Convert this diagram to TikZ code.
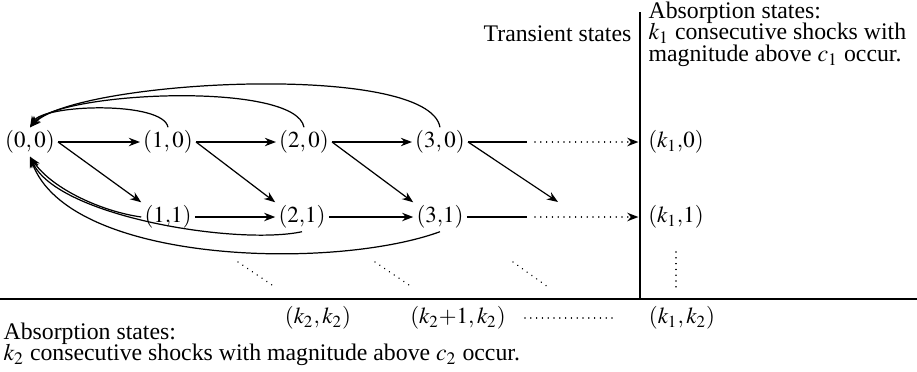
\documentclass[tikz,border=0pt]{standalone}
\usepackage{mathptmx}
\usepackage{fontspec}
\setmainfont{Liberation Serif}
\usetikzlibrary{arrows.meta}

\begin{document}
\begin{tikzpicture}[
  x=0.45pt, y=0.45pt, line width=0.55pt,
  >={Stealth[length=5pt,width=3.8pt]},
  state/.style={inner sep=1.2pt,font=\fontsize{10.3}{9}\selectfont},
  txt/.style={inner sep=0pt,align=left,font=\fontsize{10.7}{9.8}\selectfont},
  dotline/.style={line width=0.7pt,dash pattern=on 0.01pt off 2.6pt,line cap=round},
  baseline=(current bounding box.north)
]
  \useasboundingbox (0,0) rectangle (917,371);
  % transient states
  \node[state] (s00) at (30,229) {$(0, 0)$};
  \node[state] (s10) at (168,229) {$(1, 0)$};
  \node[state] (s20) at (304,229) {$(2, 0)$};
  \node[state] (s30) at (440,229) {$(3, 0)$};
  \node[state] (s11) at (168,154) {$(1{,}1)$};
  \node[state] (s21) at (302,154) {$(2{,}1)$};
  \node[state] (s31) at (440,154) {$(3{,}1)$};
  % absorption states
  \node[state] (k10) at (676,229) {$(k_1{,}0)$};
  \node[state] (k11) at (676,154) {$(k_1{,}1)$};
  \node[state] (kk) at (318,53) {$(k_2, k_2)$};
  \node[state] (kk1) at (458,53) {$(k_2{+}1, k_2)$};
  \node[state] (k1k2) at (682,53) {$(k_1, k_2)$};
  % free ends
  \coordinate (g0a) at (527,229);
  \coordinate (g0b) at (535,229);
  \coordinate (g1a) at (527,154);
  \coordinate (g1b) at (535,154);
  \coordinate (g41) at (558,169);
  % forward moves
  \draw[->] (s00) -- (s10);
  \draw[->] (s10) -- (s20);
  \draw[->] (s20) -- (s30);
  \draw[->] (s11) -- (s21);
  \draw[->] (s21) -- (s31);
  \draw[->] (s00.east) -- (s11.north west);
  \draw[->] (s10.east) -- (s21.north west);
  \draw[->] (s20.east) -- (s31.north west);
  \draw[->] (s30.east) -- (g41);
  \draw (s30) -- (g0a);
  \draw (s31) -- (g1a);
  \draw[dotline,->,shorten >=3pt] (g0b) -- (k10);
  \draw[dotline,->,shorten >=3pt] (g1b) -- (k11);
  % returns to (0,0)
  \draw[->] (s10.north) to[out=100,in=60,looseness=0.5] (s00.north);
  \draw[->] (s20.north) to[out=100,in=50,looseness=0.44] (s00.north);
  \draw[->] (s30.north) to[out=100,in=45,looseness=0.42] (s00.north);
  \draw[->] (s11.west) to[out=172,in=-55,looseness=0.8] (s00.south);
  \draw[->] (s21.south) to[out=192,in=-65,looseness=0.6] (s00.south);
  \draw[->] (s31.south) to[out=200,in=-70,looseness=0.7] (s00.south);
  % continuation dots
  \coordinate (d1a) at (238,109); \coordinate (d1b) at (275,84);
  \coordinate (d2a) at (375,109); \coordinate (d2b) at (412,84);
  \coordinate (d3a) at (513,109); \coordinate (d3b) at (548,84);
  \coordinate (d4a) at (676,119); \coordinate (d4b) at (676,84);
  \coordinate (d5a) at (525,53);  \coordinate (d5b) at (617,53);
  \draw[dotline] (d1a) -- (d1b);
  \draw[dotline] (d2a) -- (d2b);
  \draw[dotline] (d3a) -- (d3b);
  \draw[dotline] (d4a) -- (d4b);
  \draw[dotline] (d5a) -- (d5b);
  % separators
  \coordinate (vt) at (640,359);
  \coordinate (vb) at (640,72);
  \coordinate (hl) at (0,72);
  \coordinate (hr) at (917,72);
  \draw (vt) -- (vb);
  \draw (hl) -- (hr);
  % captions
  \node[txt,anchor=base east] (trans) at (632,330) {Transient states};
  \node[txt,anchor=north west] (abs1) at (648,370)
    {Absorption states:\\$k_1$ consecutive shocks with\\magnitude above $c_1$ occur.};
  \node[txt,anchor=north west] (abs2) at (3,49)
    {Absorption states:\\$k_2$ consecutive shocks with magnitude above $c_2$ occur.};
\end{tikzpicture}
\end{document}
